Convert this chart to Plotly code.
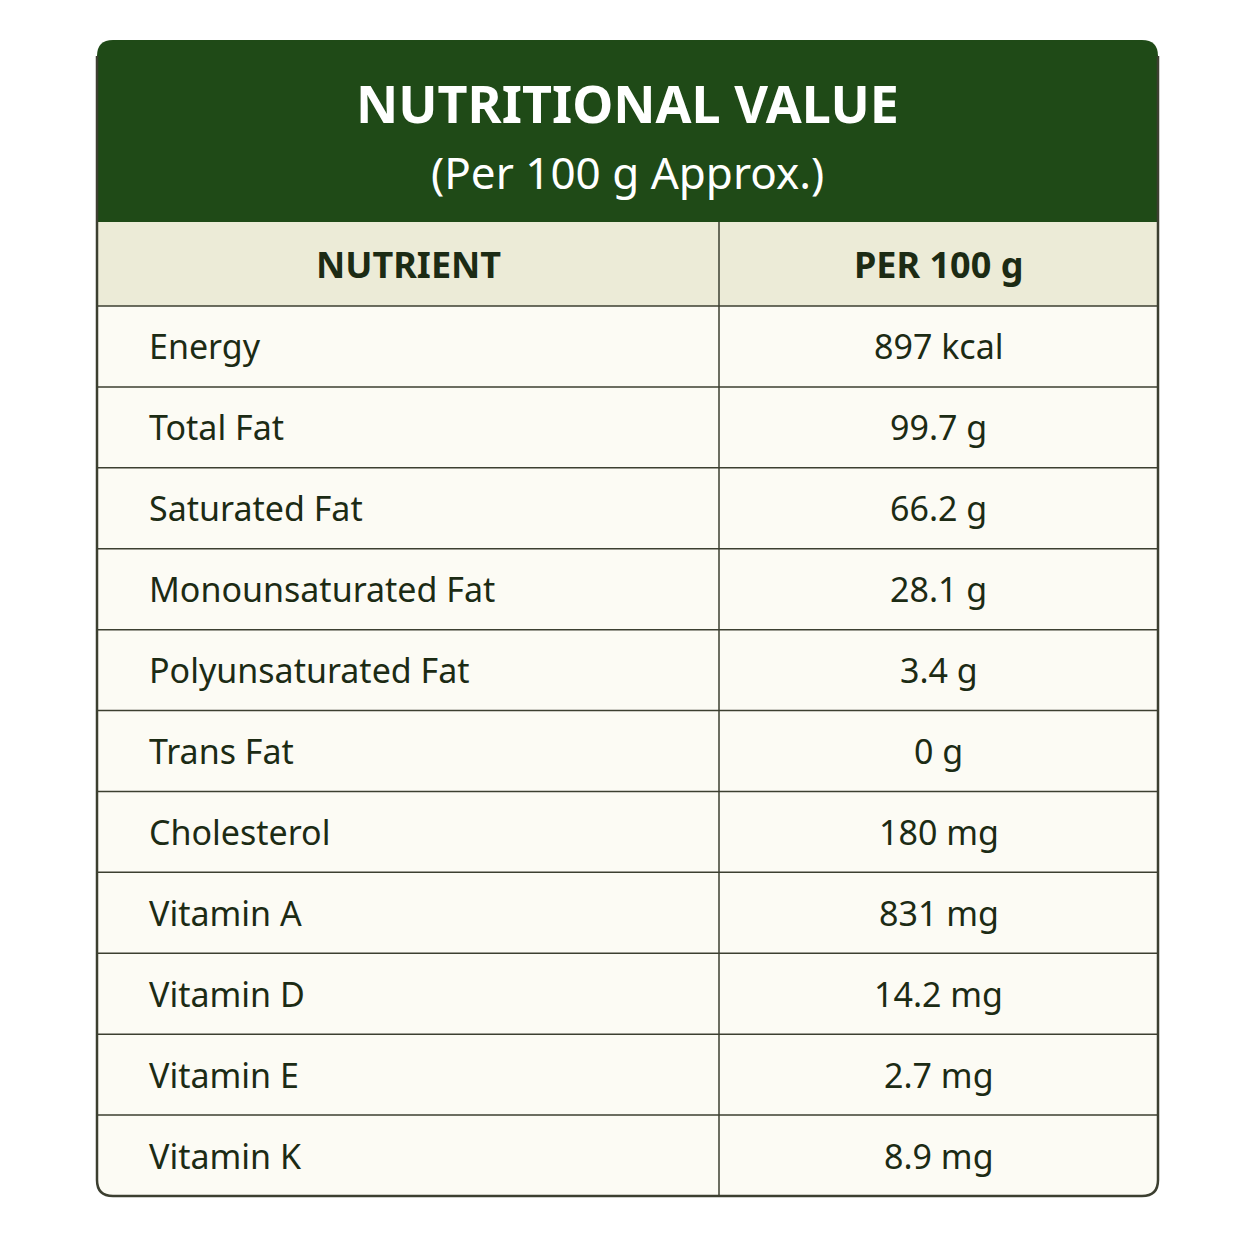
import plotly.graph_objects as go

title_main = "NUTRITIONAL VALUE"
title_sub = "(Per 100 g Approx.)"
headers = ["NUTRIENT", "PER 100 g"]
nutrients = ["Energy", "Total Fat", "Saturated Fat", "Monounsaturated Fat",
             "Polyunsaturated Fat", "Trans Fat", "Cholesterol", "Vitamin A",
             "Vitamin D", "Vitamin E", "Vitamin K"]
values = ["897 kcal", "99.7 g", "66.2 g", "28.1 g", "3.4 g", "0 g", "180 mg",
          "831 mg", "14.2 mg", "2.7 mg", "8.9 mg"]

W = H = 1254
L, R, T, B = 97, 1158, 40, 1196
band_bot, head_bot, split = 222, 306, 719
row_h = (B - head_bot) / len(nutrients)
green = "#1f4a17"
line = "#3c3f30"
txt = "#1c2b14"
off = 8  # browser body margin

fig = go.Figure()
fig.update_xaxes(visible=False, range=[off, W + off])
fig.update_yaxes(visible=False, range=[H + off, off])
shapes = []
r = 16
shapes.append(dict(type="path", path=f"M {L} {band_bot} L {R} {band_bot} L {R} {B-r} Q {R} {B} {R-r} {B} L {L+r} {B} Q {L} {B} {L} {B-r} Z",
                   fillcolor="#fcfbf4", line=dict(width=0), layer="below"))
shapes.append(dict(type="rect", x0=L, x1=R, y0=band_bot, y1=head_bot, fillcolor="#ecebd7", line=dict(width=0), layer="below"))
shapes.append(dict(type="path", path=f"M {L} {band_bot} L {L} {T+r} Q {L} {T} {L+r} {T} L {R-r} {T} Q {R} {T} {R} {T+r} L {R} {band_bot} Z",
                   fillcolor=green, line=dict(width=0)))
for i in range(len(nutrients)):
    y = head_bot + i * row_h
    shapes.append(dict(type="line", x0=L, x1=R, y0=y, y1=y, line=dict(color=line, width=1.5)))
shapes.append(dict(type="line", x0=split, x1=split, y0=band_bot, y1=B, line=dict(color=line, width=1.5)))
shapes.append(dict(type="path", path=f"M {L} {T+r} L {L} {B-r} Q {L} {B} {L+r} {B} L {R-r} {B} Q {R} {B} {R} {B-r} L {R} {T+r}",
                   line=dict(color=line, width=2.5)))

ann = []
font = "Noto Sans"
ann.append(dict(x=(L+R)/2, y=102, text=f"<b>{title_main}</b>", font=dict(size=52, color="white", family=font)))
ann.append(dict(x=(L+R)/2, y=172, text=title_sub, font=dict(size=44, color="white", family=font)))
ann.append(dict(x=(L+split)/2, y=(band_bot+head_bot)/2, text=f"<b>{headers[0]}</b>", font=dict(size=36, color=txt, family=font)))
ann.append(dict(x=(split+R)/2, y=(band_bot+head_bot)/2, text=f"<b>{headers[1]}</b>", font=dict(size=36, color=txt, family=font)))
for i, (n, v) in enumerate(zip(nutrients, values)):
    yc = head_bot + (i + 0.5) * row_h
    ann.append(dict(x=147, y=yc, text=n, xanchor="left", font=dict(size=34, color=txt, family=font)))
    ann.append(dict(x=(split+R)/2, y=yc, text=v, font=dict(size=34, color=txt, family=font)))
for a in ann:
    a.update(xref="x", yref="y", showarrow=False)
    a.setdefault("xanchor", "center")
    a["yanchor"] = "middle"

fig.update_layout(width=W, height=H, margin=dict(l=0, r=0, t=0, b=0),
                  paper_bgcolor="white", plot_bgcolor="white",
                  shapes=shapes, annotations=ann)
fig.write_html("out.html")
